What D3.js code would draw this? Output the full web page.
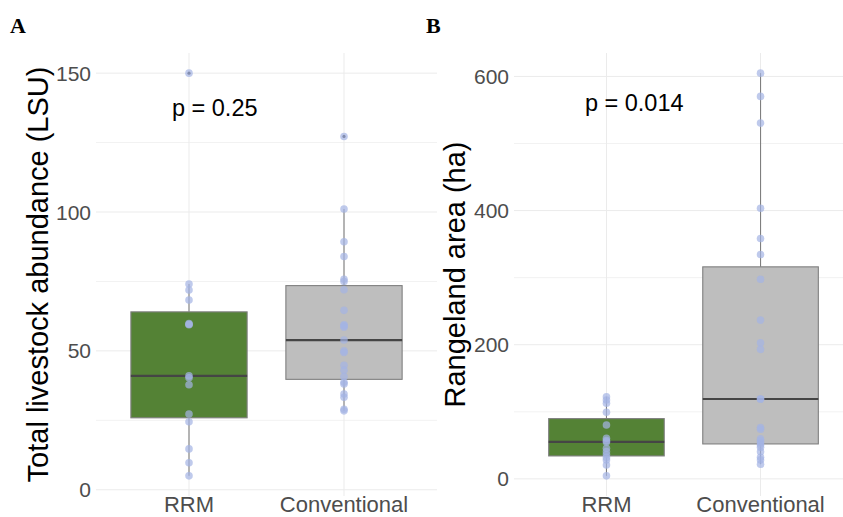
<html>
<head>
<script src="https://cdnjs.cloudflare.com/ajax/libs/d3/7.8.5/d3.min.js"></script>
<style>
  body { margin: 0; background: #fff; }
  svg { display: block; }
  text { font-family: "Liberation Sans", Arial, sans-serif; }
</style>
</head>
<body>
<svg width="843" height="517"></svg>
<script>
var groups = ["RRM", "Conventional"];

// total livestock abundance (LSU)
var livestockRRM = [150, 74.1, 71.9, 68.3, 59.8, 59.6, 59.4, 41.0, 40.3, 37.8, 27.3, 24.5, 14.7, 9.7, 5.0];
var livestockConv = [127.2, 101.1, 89.3, 84.0, 75.8, 75.0, 72.0, 64.6, 59.4, 59.0, 58.5, 53.9, 50.0, 49.4,
                     44.8, 43.0, 40.8, 38.7, 38.1, 34.5, 33.3, 29.0, 28.4];

// rangeland area (ha)
var areaRRM = [122.5, 117.6, 112.7, 99.3, 80.4, 60.6, 57.0, 55.1, 45.7, 40.6, 36.4, 32.0, 28.3, 20.8, 4.5];
var areaConv = [604.9, 570.2, 530.4, 403.5, 358.3, 334.5, 297.7, 236.7, 202.9, 193.1, 119.1, 119.1, 76.4,
                74.0, 59.6, 56.6, 53.6, 50.6, 47.2, 40.6, 32.3, 28.3, 21.9];

var livestockTicks = [0, 50, 100, 150];
var livestockMinor = [25, 75, 125];
var areaTicks = [0, 200, 400, 600];
var areaMinor = [100, 300, 500];

var boxFill = {"RRM": "#548235", "Conventional": "#bebebe"};

var svg = d3.select("svg");

function boxStats(values) {
    var s = values.slice().sort(d3.ascending);
    var q1 = d3.quantile(s, 0.25), med = d3.quantile(s, 0.5), q3 = d3.quantile(s, 0.75);
    var iqr = q3 - q1;
    var inside = s.filter(v => v >= q1 - 1.5 * iqr && v <= q3 + 1.5 * iqr);
    return {
        q1: q1, med: med, q3: q3,
        lo: d3.min(inside), hi: d3.max(inside),
        out: s.filter(v => v < q1 - 1.5 * iqr || v > q3 + 1.5 * iqr)
    };
}

function panel(p) {
    var all = p.data[0].concat(p.data[1]);
    var ext = d3.extent(all);
    var pad = (ext[1] - ext[0]) * 0.05;

    var x = d3.scalePoint().domain(groups).range([p.left, p.right]).padding(0.6);
    var y = d3.scaleLinear().domain([ext[0] - pad, ext[1] + pad]).range([496, 53]);

    var g = svg.append("g");

    // grid
    g.selectAll(".minor").data(p.minor).enter().append("line")
        .attr("x1", p.left).attr("x2", p.right)
        .attr("y1", d => y(d)).attr("y2", d => y(d))
        .attr("stroke", "#f2f2f2").attr("stroke-width", 1);
    g.selectAll(".major").data(p.ticks).enter().append("line")
        .attr("x1", p.left).attr("x2", p.right)
        .attr("y1", d => y(d)).attr("y2", d => y(d))
        .attr("stroke", "#ebebeb").attr("stroke-width", 1);
    g.selectAll(".vgrid").data(groups).enter().append("line")
        .attr("x1", d => x(d)).attr("x2", d => x(d))
        .attr("y1", 53).attr("y2", 496)
        .attr("stroke", "#ebebeb").attr("stroke-width", 1);

    // y tick labels
    g.selectAll(".ytick").data(p.ticks).enter().append("text")
        .attr("x", p.left - 5).attr("y", d => y(d))
        .attr("dy", "0.36em").attr("text-anchor", "end")
        .attr("font-size", 21).attr("fill", "#4d4d4d")
        .text(d => d);

    // x tick labels
    g.selectAll(".xtick").data(groups).enter().append("text")
        .attr("x", d => x(d)).attr("y", 512)
        .attr("text-anchor", "middle")
        .attr("font-size", 22).attr("fill", "#4d4d4d")
        .text(d => d);

    // y title
    g.append("text")
        .attr("transform", "translate(" + p.titleX + "," + ((53 + 496) / 2) + ") rotate(-90)")
        .attr("text-anchor", "middle")
        .attr("font-size", 29).attr("fill", "#000")
        .text(p.title);

    var bw = x.step() * 0.75;

    groups.forEach(function(grp, i) {
        var st = boxStats(p.data[i]);
        var cx = x(grp);
        g.append("line").attr("x1", cx).attr("x2", cx)
            .attr("y1", y(st.q3)).attr("y2", y(st.hi))
            .attr("stroke", "#7f7f7f").attr("stroke-width", 1.1);
        g.append("line").attr("x1", cx).attr("x2", cx)
            .attr("y1", y(st.q1)).attr("y2", y(st.lo))
            .attr("stroke", "#7f7f7f").attr("stroke-width", 1.1);
        g.append("rect")
            .attr("x", cx - bw / 2).attr("width", bw)
            .attr("y", y(st.q3)).attr("height", y(st.q1) - y(st.q3))
            .attr("fill", boxFill[grp]).attr("stroke", "#7f7f7f").attr("stroke-width", 1.1);
        g.append("line")
            .attr("x1", cx - bw / 2).attr("x2", cx + bw / 2)
            .attr("y1", y(st.med)).attr("y2", y(st.med))
            .attr("stroke", "#454545").attr("stroke-width", 2.2);
        g.selectAll(".out" + i).data(st.out).enter().append("circle")
            .attr("cx", cx).attr("cy", d => y(d)).attr("r", 1.6)
            .attr("fill", "#333");
        g.selectAll(".pt" + i).data(p.data[i]).enter().append("circle")
            .attr("cx", cx).attr("cy", d => y(d)).attr("r", 3.8)
            .attr("fill", "#a4b4e4").attr("fill-opacity", 0.7);
    });

    // p value
    g.append("text")
        .attr("x", x(groups[0]) + p.pOffset * x.step())
        .attr("y", y(p.pY))
        .attr("font-size", 23.5).attr("fill", "#000")
        .text(p.pText);

    // panel letter
    g.append("text")
        .attr("x", p.letterX).attr("y", 33)
        .style("font-family", "'Liberation Serif', 'Times New Roman', serif")
        .attr("font-weight", "bold").attr("font-size", 22)
        .text(p.letter);
}

panel({
    data: [livestockRRM, livestockConv], ticks: livestockTicks, minor: livestockMinor,
    left: 96, right: 437, titleX: 48, title: "Total livestock abundance (LSU)",
    pText: "p = 0.25", pOffset: -0.11, pY: 134.5, letter: "A", letterX: 10
});
panel({
    data: [areaRRM, areaConv], ticks: areaTicks, minor: areaMinor,
    left: 514, right: 853, titleX: 465, title: "Rangeland area (ha)",
    pText: "p = 0.014", pOffset: -0.14, pY: 549, letter: "B", letterX: 426
});
</script>
</body>
</html>
